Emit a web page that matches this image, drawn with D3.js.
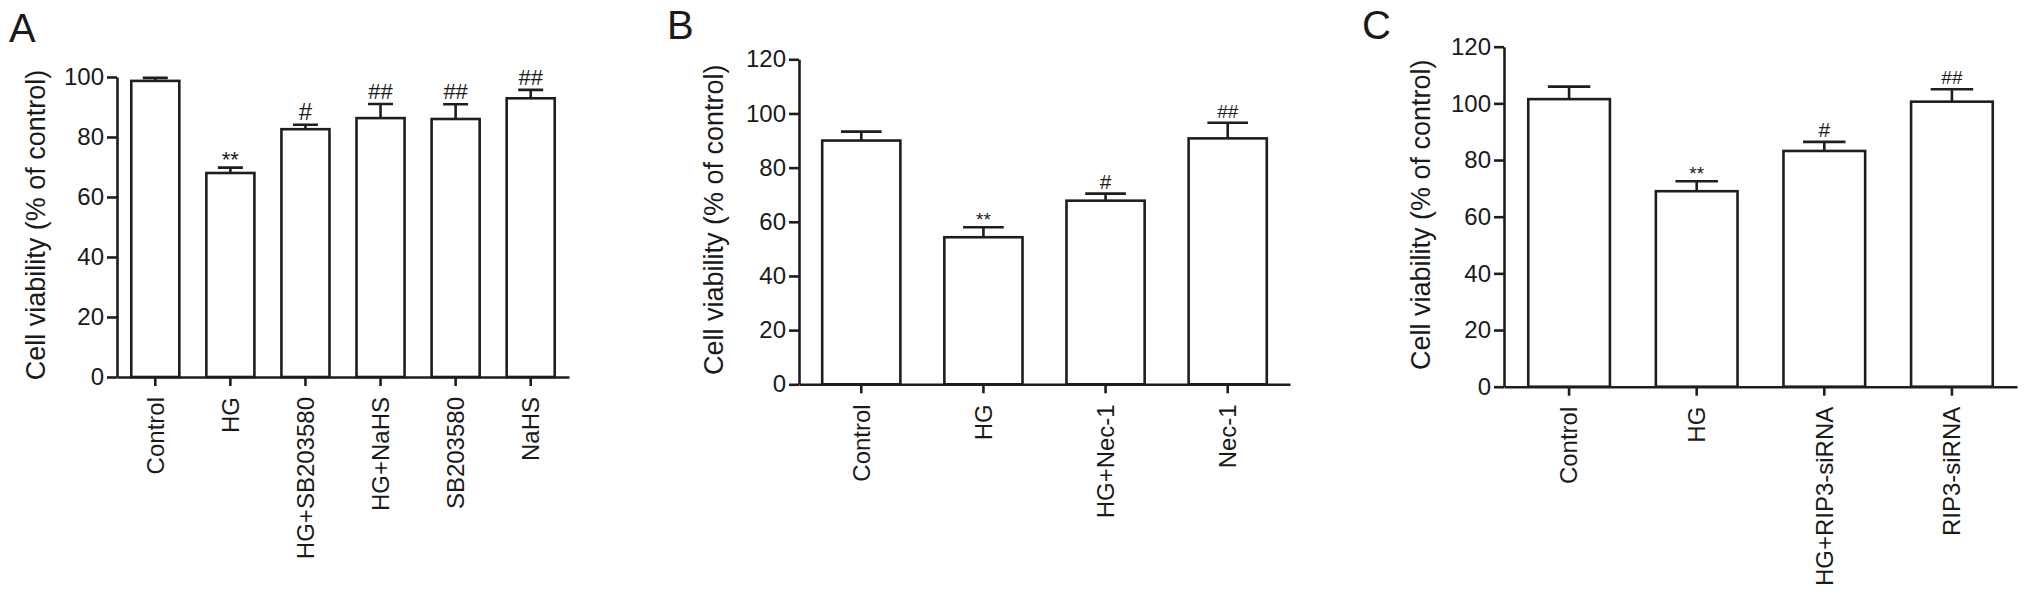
<!DOCTYPE html>
<html>
<head>
<meta charset="utf-8">
<script src="https://cdn.jsdelivr.net/npm/d3@7"></script>
<style>
  body { margin: 0; background: #fff; }
  svg text { font-family: "Liberation Sans", Arial, sans-serif; fill: #1a1a1a; }
</style>
</head>
<body>
<div id="graph"></div>
<script>
"use strict";

// panel A
const labelsA = ["Control", "HG", "HG+SB203580", "HG+NaHS", "SB203580", "NaHS"];
const valuesA = [98.7, 68.0, 82.6, 86.3, 86.0, 92.9];
const errorsA = [1.0, 1.8, 1.5, 4.7, 4.9, 2.8];
const marksA = ["", "**", "#", "##", "##", "##"];
const ticksA = [0, 20, 40, 60, 80, 100];

// panel B
const labelsB = ["Control", "HG", "HG+Nec-1", "Nec-1"];
const valuesB = [90.0, 54.3, 67.8, 90.8];
const errorsB = [3.3, 3.7, 2.6, 5.8];
const marksB = ["", "**", "#", "##"];
const ticksB = [0, 20, 40, 60, 80, 100, 120];

// panel C
const labelsC = ["Control", "HG", "HG+RIP3-siRNA", "RIP3-siRNA"];
const valuesC = [101.5, 69.0, 83.2, 100.6];
const errorsC = [4.4, 3.5, 3.2, 4.4];
const marksC = ["", "**", "#", "##"];
const ticksC = [0, 20, 40, 60, 80, 100, 120];

const yTitle = "Cell viability (% of control)";

(function() {
    const svgSize = { width: 2031, height: 605 };
    const stroke = "#1e1e1e";

    const panels = [
        { letter: "A", letterX: 9, letterY: 42, titleX: 45, labels: labelsA, values: valuesA,
          errors: errorsA, marks: marksA, ticks: ticksA, max: 100,
          left: 117, right: 569, bottom: 377, top: 77, markSize: 22 },
        { letter: "B", letterX: 667, letterY: 39, titleX: 723, labels: labelsB, values: valuesB,
          errors: errorsB, marks: marksB, ticks: ticksB, max: 120,
          left: 799, right: 1290, bottom: 384.3, top: 59.3, markSize: 19 },
        { letter: "C", letterX: 1362, letterY: 39, titleX: 1430, labels: labelsC, values: valuesC,
          errors: errorsC, marks: marksC, ticks: ticksC, max: 120,
          left: 1504, right: 2017, bottom: 386.7, top: 46.7, markSize: 19 },
    ];

    window.addEventListener("load", init);

    function init() {
        const svg = d3.select("#graph")
            .append("svg")
                .attr("width", svgSize.width)
                .attr("height", svgSize.height);
        panels.forEach((p) => drawPanel(svg, p));
    }

    function drawPanel(svg, p) {
        const rows = p.labels.map((name, i) => ({
            name: name, value: p.values[i], err: p.errors[i], mark: p.marks[i]
        }));

        const x = d3.scaleBand()
            .domain(p.labels)
            .range([p.left, p.right])
            .paddingInner(0.36)
            .paddingOuter(0.19);
        const y = d3.scaleLinear()
            .domain([0, p.max])
            .range([p.bottom, p.top]);

        const g = svg.append("g");

        // bars
        g.selectAll(".bar")
            .data(rows)
            .enter()
            .append("rect")
                .attr("x", (d) => x(d.name))
                .attr("y", (d) => y(d.value))
                .attr("width", x.bandwidth())
                .attr("height", (d) => p.bottom - y(d.value))
                .attr("fill", "white")
                .attr("stroke", stroke)
                .attr("stroke-width", 2.6);

        // upper error bars
        const capHalf = x.bandwidth() * 0.26;
        const cx = (d) => x(d.name) + x.bandwidth() / 2;
        g.selectAll(".err")
            .data(rows)
            .enter()
            .append("path")
                .attr("d", (d) => "M" + cx(d) + "," + y(d.value) + "V" + y(d.value + d.err)
                    + "M" + (cx(d) - capHalf) + "," + y(d.value + d.err) + "H" + (cx(d) + capHalf))
                .attr("fill", "none")
                .attr("stroke", stroke)
                .attr("stroke-width", 2.6);

        // significance marks
        g.selectAll(".mark")
            .data(rows.filter((d) => d.mark !== ""))
            .enter()
            .append("text")
                .attr("x", cx)
                .attr("y", (d) => y(d.value + d.err) + (d.mark === "**" ? -1 : -5))
                .attr("text-anchor", "middle")
                .style("font-size", (d) => (d.mark === "#" ? p.markSize + 2 : p.markSize) + "px")
                .text((d) => d.mark);

        // y axis
        const yAxis = g.append("g")
            .attr("transform", "translate(" + p.left + ",0)")
            .call(d3.axisLeft(y).tickValues(p.ticks).tickSize(10).tickPadding(3).tickSizeOuter(0));
        styleAxis(yAxis);
        yAxis.selectAll("text").style("font-size", "24px");

        // x axis
        const xAxis = g.append("g")
            .attr("transform", "translate(0," + p.bottom + ")")
            .call(d3.axisBottom(x).tickSize(9).tickSizeOuter(0));
        styleAxis(xAxis);
        xAxis.selectAll("text")
            .attr("transform", "rotate(-90)")
            .attr("x", -20)
            .attr("y", 0)
            .attr("dy", "0.35em")
            .style("text-anchor", "end")
            .style("font-size", "24px");

        // axis title
        g.append("text")
            .attr("transform", "translate(" + p.titleX + "," + ((p.top + p.bottom) / 2 - 2) + ") rotate(-90)")
            .attr("text-anchor", "middle")
            .style("font-size", "27px")
            .text(yTitle);

        // panel letter
        g.append("text")
            .attr("x", p.letterX)
            .attr("y", p.letterY)
            .style("font-size", "40px")
            .text(p.letter);
    }

    function styleAxis(axis) {
        axis.selectAll("path, line")
            .attr("stroke", stroke)
            .attr("stroke-width", 2.6);
        axis.selectAll("text").style("fill", "#1a1a1a");
    }
})();
</script>
</body>
</html>
